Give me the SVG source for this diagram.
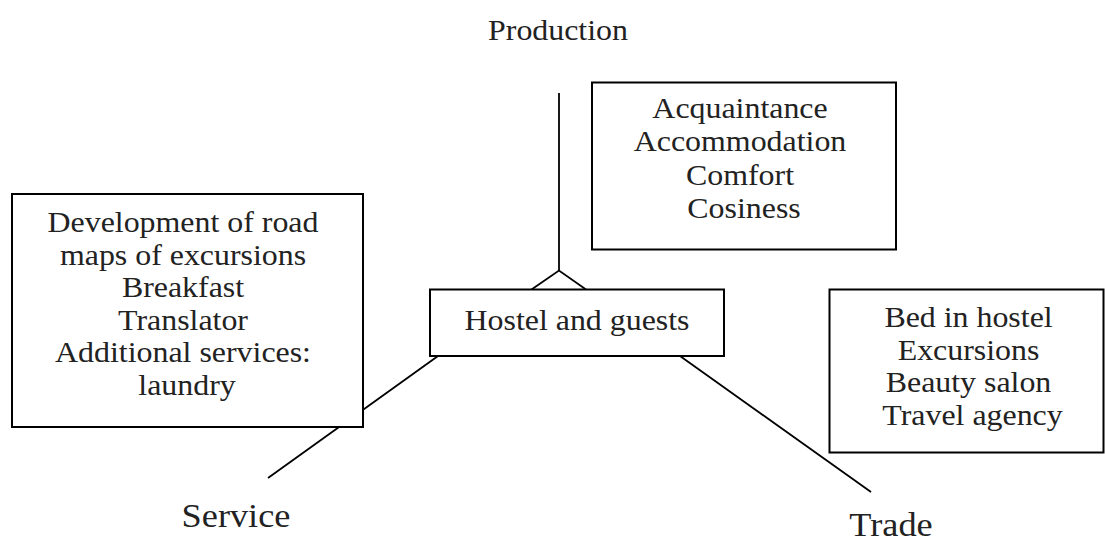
<svg xmlns="http://www.w3.org/2000/svg" width="1105" height="538" viewBox="0 0 1105 538">
<style>
  .box { fill: #ffffff; stroke: #000000; stroke-width: 2; }
  .conn { fill: none; stroke: #000000; stroke-width: 1.8; stroke-linejoin: miter; }
  .t { font-family: "Liberation Serif", "Times New Roman", serif; font-size: 29px; fill: #222222; text-anchor: middle; }
  .lbl { font-family: "Liberation Serif", "Times New Roman", serif; font-size: 33px; fill: #222222; text-anchor: middle; }
</style>
<rect width="1105" height="538" fill="#ffffff"/>

<g id="connectors">
  <line class="conn" x1="559" y1="93" x2="559" y2="271"/>
  <polyline class="conn" points="531.5,289.5 559,270.5 586,289.5"/>
  <line class="conn" x1="438" y1="356" x2="268" y2="478"/>
  <line class="conn" x1="680" y1="356" x2="871" y2="492"/>
</g>

<g id="production-label">
  <text class="t" transform="translate(558,0) scale(1.1,1)"><tspan x="0" y="40">Production</tspan></text>
</g>

<g id="production-box">
  <rect class="box" x="592" y="82.5" width="304" height="167"/>
  <text class="t" transform="translate(744,0) scale(1.1,1)">
    <tspan x="0" y="118">Acquaintance</tspan>
    <tspan x="0" y="151.5">Accommodation</tspan>
    <tspan x="0" y="185">Comfort</tspan>
    <tspan x="0" y="218.5">Cosiness</tspan>
  </text>
</g>

<g id="service-box">
  <rect class="box" x="12" y="194" width="351" height="233"/>
  <text class="t" transform="translate(187,0) scale(1.1,1)">
    <tspan x="0" y="232">Development of road</tspan>
    <tspan x="0" y="264.6">maps of excursions</tspan>
    <tspan x="0" y="297.2">Breakfast</tspan>
    <tspan x="0" y="329.8">Translator</tspan>
    <tspan x="0" y="362.4">Additional services:</tspan>
    <tspan x="0" y="395">laundry</tspan>
  </text>
</g>

<g id="hostel">
  <rect class="box" x="430" y="289.5" width="294" height="66.5"/>
  <text class="t" transform="translate(577,0) scale(1.1,1)"><tspan x="0" y="330">Hostel and guests</tspan></text>
</g>

<g id="trade-box">
  <rect class="box" x="829.5" y="289.5" width="274" height="163"/>
  <text class="t" transform="translate(972.5,0) scale(1.1,1)">
    <tspan x="0" y="327">Bed in hostel</tspan>
    <tspan x="0" y="359.7">Excursions</tspan>
    <tspan x="0" y="392.4">Beauty salon</tspan>
    <tspan x="0" y="425">Travel agency</tspan>
  </text>
</g>

<g id="service-label">
  <text class="lbl" transform="translate(236,0) scale(1.1,1)"><tspan x="0" y="527">Service</tspan></text>
</g>

<g id="trade-label">
  <text class="lbl" transform="translate(891,0) scale(1.1,1)"><tspan x="0" y="536">Trade</tspan></text>
</g>
</svg>
